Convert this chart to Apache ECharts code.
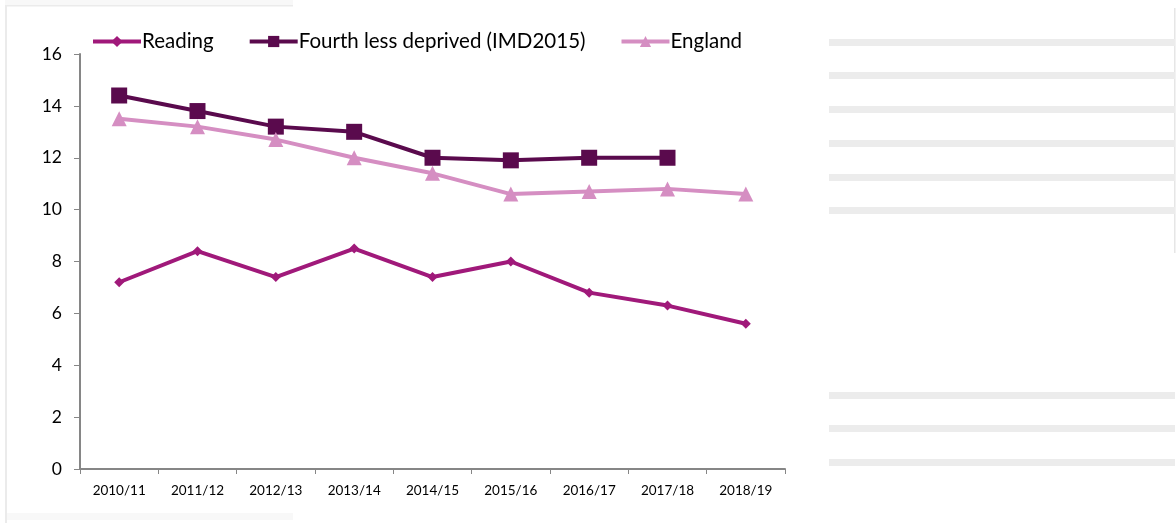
<!DOCTYPE html>
<html>
<head>
<meta charset="utf-8">
<script src="https://cdn.jsdelivr.net/npm/echarts@6/dist/echarts.min.js"></script>
<style>
html,body{margin:0;padding:0;background:#fff;}
#chart{width:1176px;height:523px;}
</style>
</head>
<body>
<div id="chart"></div>
<script>
const categories = ['2010/11','2011/12','2012/13','2013/14','2014/15','2015/16','2016/17','2017/18','2018/19'];
const reading = [7.2, 8.4, 7.4, 8.5, 7.4, 8.0, 6.8, 6.3, 5.6];
const fourthLessDeprived = [14.4, 13.8, 13.2, 13.0, 12.0, 11.9, 12.0, 12.0, null];
const england = [13.5, 13.2, 12.7, 12.0, 11.4, 10.6, 10.7, 10.8, 10.6];
const yTicks = [0, 2, 4, 6, 8, 10, 12, 14, 16];

const chart = echarts.init(document.getElementById('chart'), null, {renderer: 'canvas'});

const stripeYs = [39, 72, 106, 140, 174, 207, 392, 425, 459];
const decor = [
  {type:'rect', shape:{x:5, y:0, width:288, height:5}, style:{fill:'#f8f8f8'}, silent:true, z:-1},
  {type:'rect', shape:{x:5, y:5, width:288, height:1.5}, style:{fill:'#ebebeb'}, silent:true, z:-1},
  {type:'rect', shape:{x:5, y:5, width:2, height:518}, style:{fill:'#ebebeb'}, silent:true, z:-1},
  {type:'rect', shape:{x:7, y:513, width:286, height:7}, style:{fill:'#f8f8f8'}, silent:true, z:-1},
  {type:'rect', shape:{x:1174, y:8, width:1.5, height:245}, style:{fill:'#e6e6e6'}, silent:true, z:-1}
];
stripeYs.forEach(y => decor.push({type:'rect', shape:{x:829, y:y, width:346, height:7}, style:{fill:'#ececec'}, silent:true, z:-1}));

const font = 'Lato, "Open Sans", sans-serif';

chart.setOption({
  animation: false,
  backgroundColor: '#fff',
  graphic: decor,
  legend: {
    top: 26,
    left: 86,
    itemWidth: 48,
    itemHeight: 14,
    itemGap: 34,
    lineStyle: {width: 4},
    textStyle: {fontFamily: font, fontSize: 20.5, color: '#000', padding:[0,0,0,-4]},
    data: ['Reading','Fourth less deprived (IMD2015)','England']
  },
  grid: {left: 80, right: 391, top: 54, bottom: 54, containLabel: false},
  xAxis: {
    type: 'category',
    data: categories,
    boundaryGap: true,
    axisLine: {lineStyle: {color: '#868686', width: 2}},
    axisTick: {show: true, length: 5, lineStyle: {color: '#868686', width: 1}},
    axisLabel: {fontFamily: font, fontSize: 13.5, color: '#000', margin: 15}
  },
  yAxis: {
    type: 'value',
    min: yTicks[0],
    max: yTicks[yTicks.length-1],
    interval: 2,
    splitLine: {show: false},
    axisLine: {show: true, lineStyle: {color: '#868686', width: 2}},
    axisTick: {show: true, length: 6, lineStyle: {color: '#868686'}},
    axisLabel: {fontFamily: font, fontSize: 17.5, color: '#000', margin: 18}
  },
  series: [
    {
      name: 'Reading', type: 'line', data: reading,
      symbol: 'diamond', symbolSize: 10,
      lineStyle: {color: '#a0197a', width: 4},
      itemStyle: {color: '#a0197a'}
    },
    {
      name: 'Fourth less deprived (IMD2015)', type: 'line', data: fourthLessDeprived,
      symbol: 'rect', symbolSize: 16,
      lineStyle: {color: '#5a0a4d', width: 4},
      itemStyle: {color: '#5a0a4d'}
    },
    {
      name: 'England', type: 'line', data: england,
      symbol: 'triangle', symbolSize: 15,
      lineStyle: {color: '#d58ec2', width: 4},
      itemStyle: {color: '#d58ec2'}
    }
  ]
});
</script>
</body>
</html>
